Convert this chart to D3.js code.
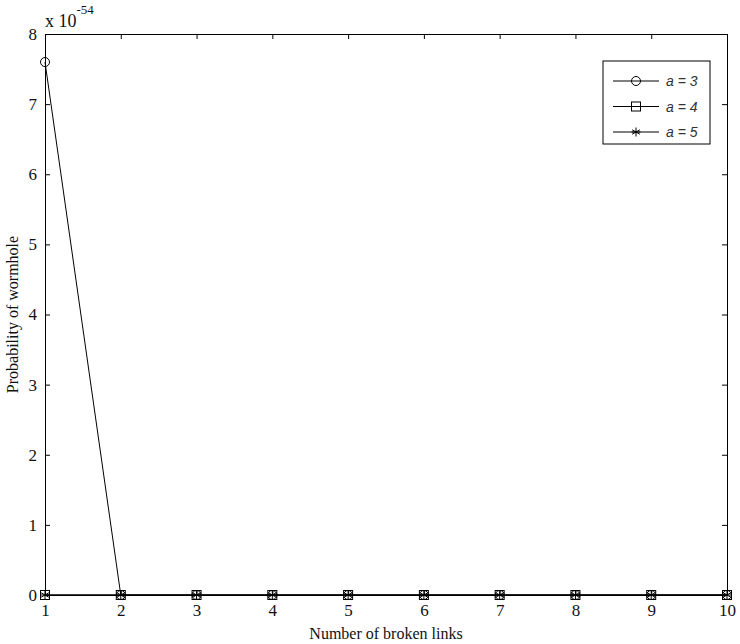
<!DOCTYPE html>
<html>
<head>
<meta charset="utf-8">
<script src="https://cdn.jsdelivr.net/npm/d3@7"></script>
<style>
  body { margin: 0; background: #fff; }
  svg { display: block; }
</style>
</head>
<body>
<div id="container"></div>
<script>
/* DATA */
const links = [1, 2, 3, 4, 5, 6, 7, 8, 9, 10];
const a3 = [7.6, 0, 0, 0, 0, 0, 0, 0, 0, 0];
const a4 = [0, 0, 0, 0, 0, 0, 0, 0, 0, 0];
const a5 = [0, 0, 0, 0, 0, 0, 0, 0, 0, 0];
const seriesNames = ["a = 3", "a = 4", "a = 5"];
const markers = ["circle", "square", "star"];
const yTicks = [0, 1, 2, 3, 4, 5, 6, 7, 8];

/* CONSTANTS */
const width = 740, height = 644,
  margin = { top: 34, bottom: 49, left: 45, right: 13 };

const svg = d3.select("#container").append("svg")
  .attr("width", width).attr("height", height);

const xScale = d3.scaleLinear().domain([1, 10])
  .range([margin.left, width - margin.right]);
const yScale = d3.scaleLinear().domain([0, 8])
  .range([height - margin.bottom, margin.top]);

const serif = "'Liberation Serif', 'Times New Roman', serif";

// axes (ticks pointing in, mirrored on top/right)
const x0 = xScale.range()[0], x1 = xScale.range()[1];
const y0 = yScale.range()[0], y1 = yScale.range()[1];

svg.append("g").attr("transform", `translate(0,${y0})`)
  .call(d3.axisBottom(xScale).tickValues(links).tickSize(-5).tickPadding(9).tickFormat(d3.format("d")));
svg.append("g").attr("transform", `translate(0,${y1})`)
  .call(d3.axisTop(xScale).tickValues(links).tickSize(-5).tickFormat(""));
svg.append("g").attr("transform", `translate(${x0},0)`)
  .call(d3.axisLeft(yScale).tickValues(yTicks).tickSize(-5).tickPadding(8).tickFormat(d3.format("d")));
svg.append("g").attr("transform", `translate(${x1},0)`)
  .call(d3.axisRight(yScale).tickValues(yTicks).tickSize(-5).tickFormat(""));

svg.selectAll(".domain").attr("stroke", "#000").attr("stroke-width", 1);
svg.selectAll(".tick line").attr("stroke", "#000");
svg.selectAll(".tick text")
  .style("font-family", serif).style("font-size", "17px").attr("fill", "#111");

// exponent
const expo = svg.append("text").attr("x", 45).attr("y", 27)
  .style("font-family", serif).style("font-size", "18px").attr("fill", "#111");
expo.append("tspan").text("x 10");
expo.append("tspan").attr("dy", -13).style("font-size", "13px").text("-54");

// axis labels
svg.append("text")
  .attr("x", (x0 + x1) / 2).attr("y", 639)
  .attr("text-anchor", "middle")
  .style("font-family", serif).style("font-size", "16px").attr("fill", "#111")
  .text("Number of broken links");
svg.append("text")
  .attr("transform", `translate(18,${(y0 + y1) / 2}) rotate(-90)`)
  .attr("text-anchor", "middle")
  .style("font-family", serif).style("font-size", "16px").attr("fill", "#111")
  .text("Probability of wormhole");

// marker drawing
function drawMarker(g, type, cx, cy) {
  if (type === "circle") {
    g.append("circle").attr("cx", cx).attr("cy", cy).attr("r", 4.5)
      .attr("fill", "none").attr("stroke", "#000");
  } else if (type === "square") {
    g.append("rect").attr("x", cx - 4.5).attr("y", cy - 4.5)
      .attr("width", 9).attr("height", 9)
      .attr("fill", "none").attr("stroke", "#000");
  } else {
    const r = 4.5;
    [0, 60, 120].forEach(a => {
      const t = a * Math.PI / 180;
      g.append("line")
        .attr("x1", cx - r * Math.sin(t)).attr("y1", cy - r * Math.cos(t))
        .attr("x2", cx + r * Math.sin(t)).attr("y2", cy + r * Math.cos(t))
        .attr("stroke", "#000");
    });
    g.append("line").attr("x1", cx - r).attr("x2", cx + r)
      .attr("y1", cy).attr("y2", cy).attr("stroke", "#000");
  }
}

const series = [a3, a4, a5];
const line = d3.line().x((d, i) => xScale(links[i])).y(d => yScale(d));

series.forEach((vals, s) => {
  svg.append("path").datum(vals)
    .attr("d", line).attr("fill", "none")
    .attr("stroke", "#000").attr("stroke-width", 1);
  const g = svg.append("g");
  vals.forEach((v, i) => drawMarker(g, markers[s], xScale(links[i]), yScale(v)));
});

// legend
const lg = svg.append("g").attr("transform", "translate(603,61)");
lg.append("rect").attr("width", 107).attr("height", 83)
  .attr("fill", "#fff").attr("stroke", "#000");
seriesNames.forEach((name, i) => {
  const cy = 20 + i * 25.5;
  lg.append("line").attr("x1", 10).attr("x2", 56).attr("y1", cy).attr("y2", cy)
    .attr("stroke", "#000");
  drawMarker(lg, markers[i], 33, cy);
  lg.append("text").attr("x", 63).attr("y", cy + 5)
    .style("font-family", "'Liberation Sans', Arial, sans-serif")
    .style("font-style", "italic").style("font-size", "14px")
    .attr("fill", "#333")
    .text(name);
});
</script>
</body>
</html>
